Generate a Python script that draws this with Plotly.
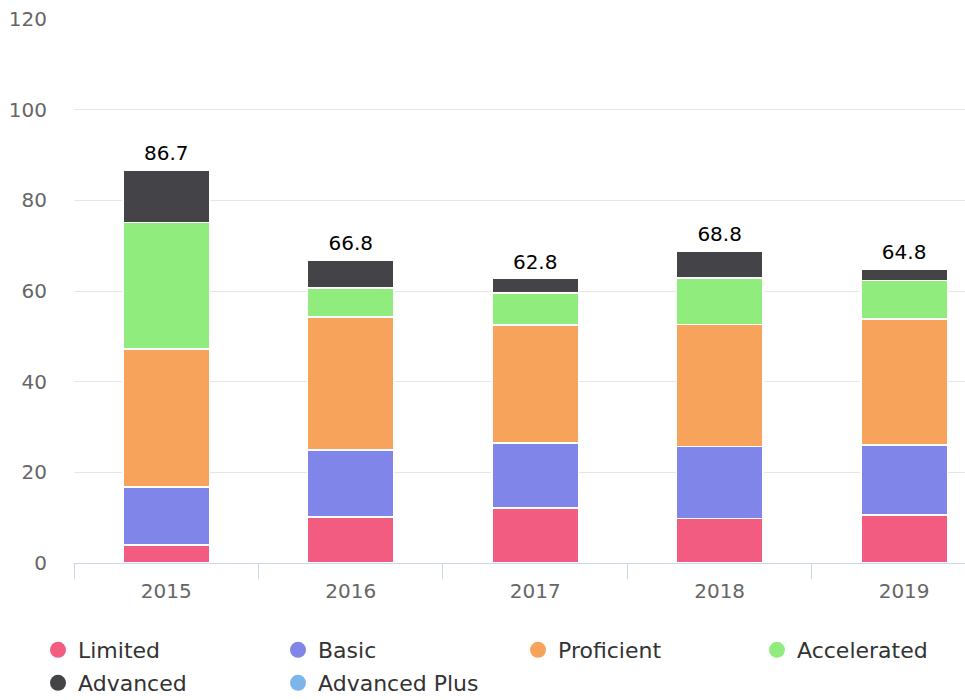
import plotly.graph_objects as go

years = ["2015", "2016", "2017", "2018", "2019"]
limited = [4.0, 10.2, 12.1, 9.8, 10.6]
basic = [12.7, 14.7, 14.4, 15.9, 15.4]
proficient = [30.5, 29.3, 26.0, 26.9, 27.8]
accelerated = [27.9, 6.5, 7.0, 10.3, 8.5]
advanced = [11.6, 6.1, 3.3, 5.9, 2.5]
advanced_plus = [0, 0, 0, 0, 0]
totals = [86.7, 66.8, 62.8, 68.8, 64.8]

series = [
    ("Limited", limited, "#f15c80"),
    ("Basic", basic, "#8085e9"),
    ("Proficient", proficient, "#f7a35c"),
    ("Accelerated", accelerated, "#90ed7d"),
    ("Advanced", advanced, "#434348"),
]
FONT = "DejaVu Sans"

fig = go.Figure()
for name, vals, color in series:
    fig.add_trace(go.Bar(
        x=years, y=vals, name=name, showlegend=False,
        marker=dict(color=color, line=dict(color="#ffffff", width=1.6)),
        width=0.47, hoverinfo="skip",
    ))

fig.add_trace(go.Scatter(
    x=years, y=totals, mode="markers+text", text=[f"{t:.1f}" for t in totals],
    textposition="top center", showlegend=False, cliponaxis=False,
    marker=dict(size=6, color="rgba(0,0,0,0)"),
    textfont=dict(family=FONT, size=20, color="#000000"), hoverinfo="skip",
))

legend_items = series + [("Advanced Plus", advanced_plus, "#7cb5ec")]
legend_of = ["legend", "legend", "legend", "legend3", "legend2", "legend2"]
for (name, vals, color), lg in zip(legend_items, legend_of):
    fig.add_trace(go.Scatter(
        x=[None], y=[None], mode="markers", name=name,
        marker=dict(color=color, size=20, symbol="circle"),
        legend=lg,
    ))

legend_common = dict(
    orientation="h", xref="container", yref="container", traceorder="normal",
    xanchor="left", yanchor="middle", entrywidthmode="pixels", entrywidth=195,
    font=dict(family=FONT, size=22, color="#333333"), bgcolor="rgba(0,0,0,0)",
    itemclick=False, itemdoubleclick=False,
)

fig.update_layout(
    width=965, height=700,
    barmode="stack",
    paper_bgcolor="#ffffff", plot_bgcolor="#ffffff",
    margin=dict(l=74, r=0, t=19, b=137, autoexpand=False),
    font=dict(family=FONT),
    showlegend=True,
    legend=dict(x=38 / 965, y=1 - 650 / 700, **legend_common),
    legend3=dict(x=757 / 965, y=1 - 650 / 700, **legend_common),
    legend2=dict(x=38 / 965, y=1 - 683 / 700, **legend_common),
    xaxis=dict(
        type="category", range=[-0.5, 4.33], tickson="boundaries",
        ticks="outside", ticklen=15, tickcolor="#ccd6eb", tickwidth=1,
        showline=True, linecolor="#ccd6eb", linewidth=1, showgrid=False,
        ticklabelstandoff=10,
        tickfont=dict(family=FONT, size=20, color="#666666"),
        fixedrange=True,
    ),
    yaxis=dict(
        range=[0, 120], tickvals=[0, 20, 40, 60, 80, 100, 120],
        showgrid=True, gridcolor="#e6e6e6", gridwidth=1, zeroline=False,
        showline=False, ticks="", ticklabelstandoff=26,
        tickfont=dict(family=FONT, size=20, color="#666666"),
        fixedrange=True,
    ),
)

fig.write_html("out.html", config={"displayModeBar": False},
               post_script="document.body.style.margin='0';document.body.style.overflow='hidden';")
